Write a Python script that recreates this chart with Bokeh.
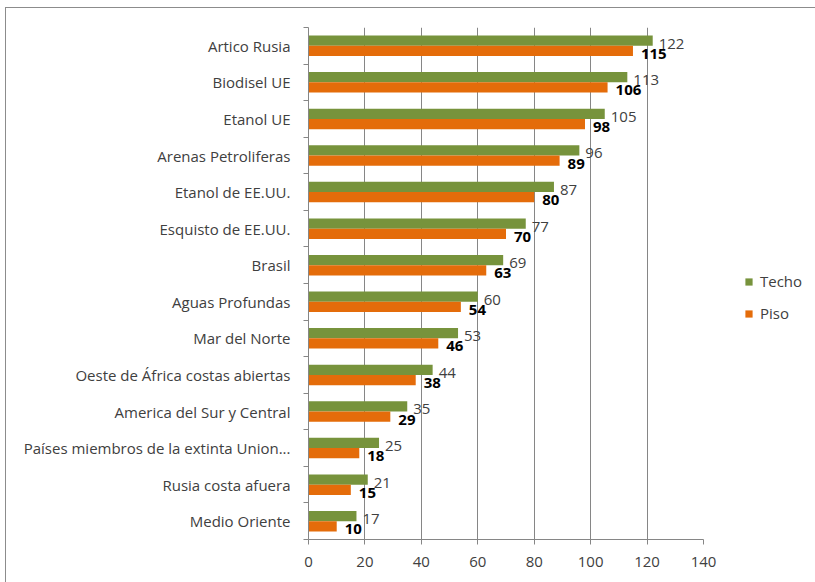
from bokeh.plotting import figure
from bokeh.models import ColumnDataSource, FixedTicker, Legend, LegendItem, Range1d
from bokeh.core.properties import value
from bokeh.embed import file_html
from bokeh.resources import INLINE
import numpy as np

categories = ["Artico Rusia", "Biodisel UE", "Etanol UE", "Arenas Petroliferas",
              "Etanol de EE.UU.", "Esquisto de EE.UU.", "Brasil", "Aguas Profundas",
              "Mar del Norte", "Oeste de África costas abiertas",
              "America del Sur y Central", "Países miembros de la extinta Union...",
              "Rusia costa afuera", "Medio Oriente"]
techo = [122, 113, 105, 96, 87, 77, 69, 60, 53, 44, 35, 25, 21, 17]
piso = [115, 106, 98, 89, 80, 70, 63, 54, 46, 38, 29, 18, 15, 10]
x_ticks = [0, 20, 40, 60, 80, 100, 120, 140]

GREEN = "#77933C"
ORANGE = "#E46C0A"
GRAY = "#868686"
FONT = "Open Sans"
FS = "15px"

n = len(categories)
yc = n - np.arange(n) - 0.5
src = ColumnDataSource(dict(
    cat=categories, techo=techo, piso=piso,
    yt=yc + 0.14, yp=yc - 0.14,
    tl=[str(v) for v in techo], pl=[str(v) for v in piso],
))

p = figure(frame_width=395, frame_height=512, output_backend="svg", toolbar_location=None,
           x_range=Range1d(0, 140), y_range=Range1d(0, n),
           min_border_left=302, min_border_right=0, min_border_top=19, min_border_bottom=43)
p.styles = {"border-left": "1px solid #8c8c8c", "border-top": "1px solid #8c8c8c",
            "margin-left": "5px", "margin-top": "7px"}
p.outline_line_color = None
p.background_fill_color = "white"
p.border_fill_color = "white"

rt = p.hbar(y="yt", right="techo", left=0, height=0.28, source=src,
            fill_color=GREEN, line_color=None)
rp = p.hbar(y="yp", right="piso", left=0, height=0.28, source=src,
            fill_color=ORANGE, line_color=None)

p.text(x="techo", y="yt", text="tl", source=src, x_offset=6, y_offset=3,
       text_font=value(FONT), text_font_size="15px", text_color="#404040",
       text_baseline="middle", text_align="left")
p.text(x="piso", y="yp", text="pl", source=src, x_offset=8, y_offset=3,
       text_font=value(FONT), text_font_size="15px", text_color="#000000",
       text_font_style="bold", text_baseline="middle", text_align="left")

# x axis
p.xaxis.ticker = FixedTicker(ticks=x_ticks)
p.xaxis.axis_line_color = GRAY
p.xaxis.major_tick_line_color = GRAY
p.xaxis.major_tick_out = 5
p.xaxis.major_tick_in = 0
p.xaxis.minor_tick_line_color = None
p.xaxis.major_label_standoff = 12
p.xaxis.major_label_text_font = FONT
p.xaxis.major_label_text_font_size = FS
p.xaxis.major_label_text_color = "#404040"

# y axis: labels at centres, ticks between categories
p.yaxis.ticker = FixedTicker(ticks=list(yc), minor_ticks=list(range(n + 1)))
p.yaxis.major_label_overrides = {float(y): c for y, c in zip(yc, categories)}
p.yaxis.axis_line_color = GRAY
p.yaxis.major_tick_line_color = None
p.yaxis.major_tick_out = 0
p.yaxis.major_tick_in = 0
p.yaxis.minor_tick_line_color = GRAY
p.yaxis.minor_tick_out = 5
p.yaxis.minor_tick_in = 0
p.yaxis.major_label_standoff = 13
p.yaxis.major_label_text_font = FONT
p.yaxis.major_label_text_font_size = FS
p.yaxis.major_label_text_color = "#404040"

p.xgrid.ticker = FixedTicker(ticks=x_ticks)
p.xgrid.grid_line_color = GRAY
p.ygrid.grid_line_color = None

legend = Legend(items=[LegendItem(label="Techo", renderers=[rt]),
                       LegendItem(label="Piso", renderers=[rp])],
                location=(41, 216), padding=0, margin=0, spacing=12,
                glyph_width=9, glyph_height=9, label_height=16, label_standoff=7,
                label_text_font=FONT, label_text_font_size=FS,
                label_text_color="#404040", border_line_color=None,
                background_fill_alpha=0)
p.add_layout(legend, "right")

open("out.html", "w").write(file_html(p, INLINE))
